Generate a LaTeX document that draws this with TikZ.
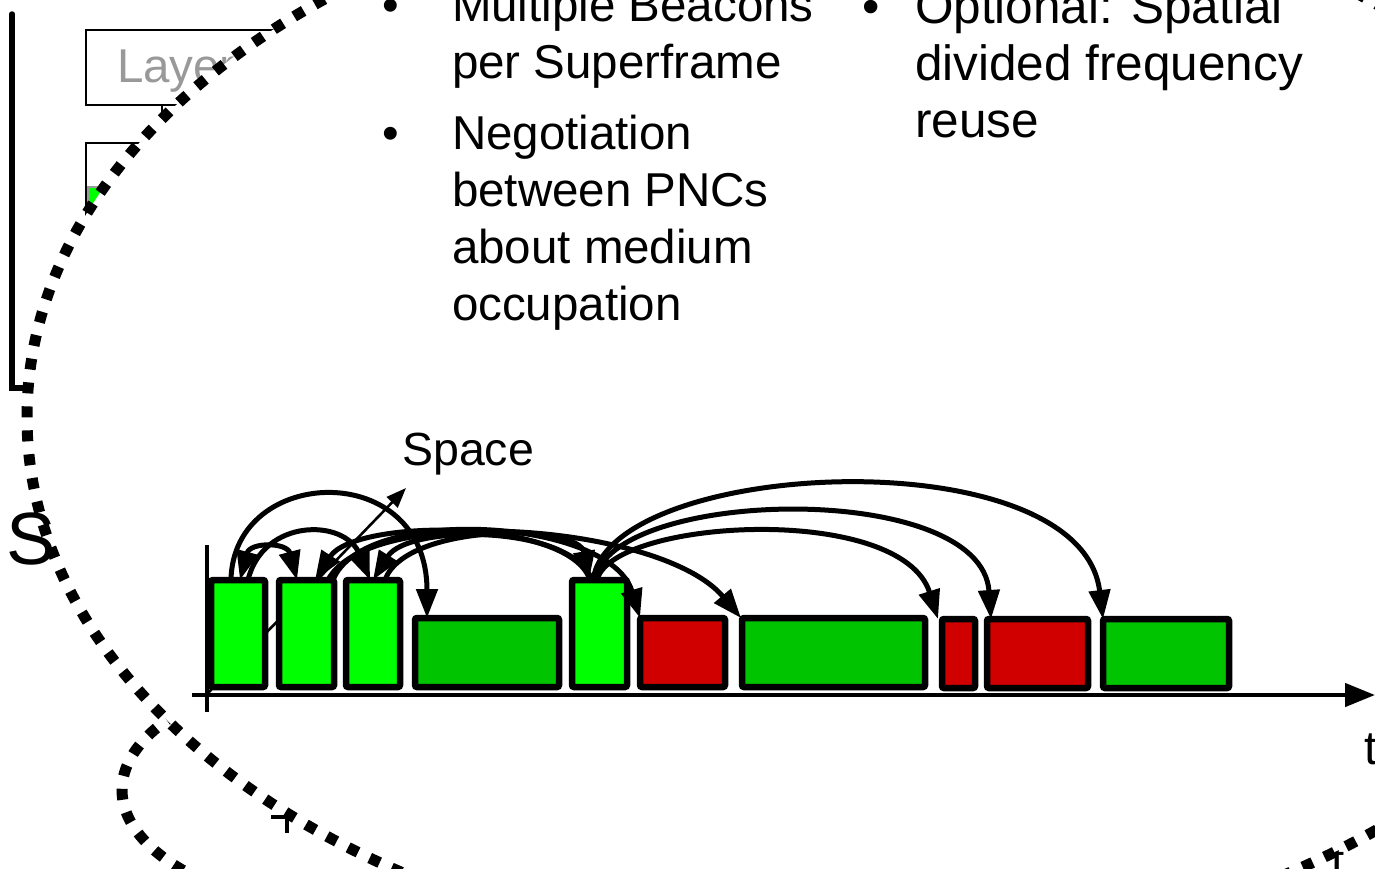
\documentclass[tikz,border=0pt]{standalone}
\usepackage{fontspec}
\setmainfont{Liberation Sans}
\usetikzlibrary{arrows.meta}
\definecolor{bgreen}{RGB}{0,255,0}
\definecolor{dgreen}{RGB}{0,196,0}
\definecolor{dred}{RGB}{208,0,0}
\definecolor{laygray}{RGB}{153,153,153}
\begin{document}
\begin{tikzpicture}[x=1pt,y=-1pt,
  txt/.style={anchor=base west, inner sep=0pt, outer sep=0pt, font=\fontsize{47.5}{57}\selectfont},
  txtb/.style={anchor=base west, inner sep=0pt, outer sep=0pt, font=\fontsize{49.5}{57}\selectfont},
  blk/.style={draw=black, line width=6.5pt, rounded corners=2pt, anchor=north west, inner sep=0pt, outer sep=0pt},
  beacon/.style={blk, fill=bgreen, minimum height=107pt},
  gslot/.style={blk, fill=dgreen, minimum height=69pt},
  rslot/.style={blk, fill=dred, minimum height=69pt},
  link/.style={line width=5pt, -{Triangle[length=29pt,width=21pt]}},
  dlink/.style={line width=5pt, {Triangle[length=29pt,width=21pt]}-{Triangle[length=29pt,width=21pt]}},
  dots/.style={line width=11pt, dash pattern=on 11pt off 13pt},
  axisln/.style={line width=4.5pt},
  thinbox/.style={line width=2pt},
]
\useasboundingbox (0,0) rectangle (1375,868);

% ---- content left of the ellipse (partly hidden) ----
\draw[line width=5.5pt, line cap=round] (12,14) -- (12,388) -- (27,388);
\draw[thinbox] (86,30) rectangle (520,105);
\node[txt, text=laygray] (layer) at (117,82) {Layer};
\draw[thinbox] (162,105) -- (162,116);
\draw[thinbox] (86,143) rectangle (520,330);
\filldraw[fill=bgreen, draw=laygray, line width=2pt] (88,187) rectangle (400,300);
\draw[dots] (422,790) ellipse [x radius=300, y radius=133];
\draw[line width=3.5pt] (271,817) -- (294,817);
\draw[line width=3.5pt] (287,811) -- (287,833);
\node[txt] (tlow) at (1331,877) {t};

% ---- big dotted ellipse ----
\fill[white] (846,417) ellipse [x radius=819, y radius=542];
\node[anchor=base west, inner sep=0pt, font=\fontsize{74}{80}\selectfont] (bigS) at (6,564) {S};
\draw[dots] (846,417) ellipse [x radius=819, y radius=542];

% ---- bullet text ----
\node[txt] (bu1) at (382.7,21) {•};
\node[txt] (l1) at (452,21) {Multiple Beacons};
\node[txt] (l2) at (452,78) {per Superframe};
\node[txt] (bu2) at (382.7,149) {•};
\node[txt] (l3) at (452,149) {Negotiation};
\node[txt] (l4) at (452,206) {between PNCs};
\node[txt] (l5) at (452,263) {about medium};
\node[txt] (l6) at (452,320) {occupation};
\node[txtb] (bu3) at (862.3,23) {•};
\node[txtb] (m1) at (915,23) {Optional: Spatial};
\node[txtb] (m2) at (915,80) {divided frequency};
\node[txtb] (m3) at (915,137) {reuse};

% ---- axes ----
\coordinate (orig) at (208,693);
\coordinate (spc) at (406,488);
\draw[line width=2.6pt, -{Triangle[length=20pt,width=15pt]}] (orig) -- (spc);
\node[anchor=base west, inner sep=0pt, font=\fontsize{46.5}{56}\selectfont] (space) at (402,465) {Space};
\coordinate (ys) at (207,545);
\coordinate (ye) at (207,712);
\draw[axisln] (ys) -- (ye);
\coordinate (xs) at (192,695);
\coordinate (xe) at (1375,695);
\draw[axisln, -{Triangle[length=30pt,width=23pt]}] (xs) -- (xe);
\node[txt] (tlab) at (1364,764) {t};

% ---- superframe slots ----
\node[beacon, minimum width=54pt] (b1) at (211,580) {};
\node[beacon, minimum width=55pt] (b2) at (279,580) {};
\node[beacon, minimum width=54pt] (b3) at (346,580) {};
\node[gslot, minimum width=144pt] (b4) at (415,618) {};
\node[beacon, minimum width=55pt] (b5) at (572,580) {};
\node[rslot, minimum width=85pt] (b6) at (640,618) {};
\node[gslot, minimum width=183pt] (b7) at (742,618) {};
\node[rslot, minimum width=33pt] (b8) at (942,619) {};
\node[rslot, minimum width=101pt] (b9) at (987,619) {};
\node[gslot, minimum width=126pt] (b10) at (1103,619) {};

% ---- negotiation arcs ----
\draw[link] ([xshift=20pt]b1.north west) .. controls +(2,-115) and +(0,-160) .. ([xshift=12pt]b4.north west);
\draw[dlink] ([xshift=29pt]b1.north west) .. controls +(10,-38) and +(-10,-38) .. ([xshift=18pt]b2.north west);
\draw[link] ([xshift=37pt]b1.north west) .. controls +(15,-62) and +(-25,-62) .. ([xshift=24pt]b3.north west);
\draw[link] ([xshift=18pt]b5.north west) .. controls +(-20,-62) and +(40,-62) .. ([xshift=36pt]b2.north west);
\draw[link] ([xshift=20pt]b5.north west) .. controls +(-20,-56) and +(35,-56) .. ([xshift=27pt]b3.north west);
\draw[link] ([xshift=39pt]b3.north west) .. controls +(20,-57) and +(-10,-57) .. ([xshift=17pt]b5.north west);
\draw[link] ([xshift=54pt]b2.north west) .. controls +(30,-76) and +(-30,-100) .. ([xshift=0pt]b6.north west);
\draw[link] ([xshift=49pt]b2.north west) .. controls +(40,-77) and +(-80,-95) .. ([xshift=-1pt]b7.north west);
\draw[link] ([xshift=25pt]b5.north west) .. controls +(15,-61) and +(-37,-117) .. ([xshift=-4pt]b8.north west);
\draw[link] ([xshift=23pt]b5.north west) .. controls +(15,-92) and +(-10,-140) .. ([xshift=4pt]b9.north west);
\draw[link] ([xshift=21pt]b5.north west) .. controls +(17,-122) and +(-22,-183) .. ([xshift=0pt]b10.north west);
\end{tikzpicture}
\end{document}
